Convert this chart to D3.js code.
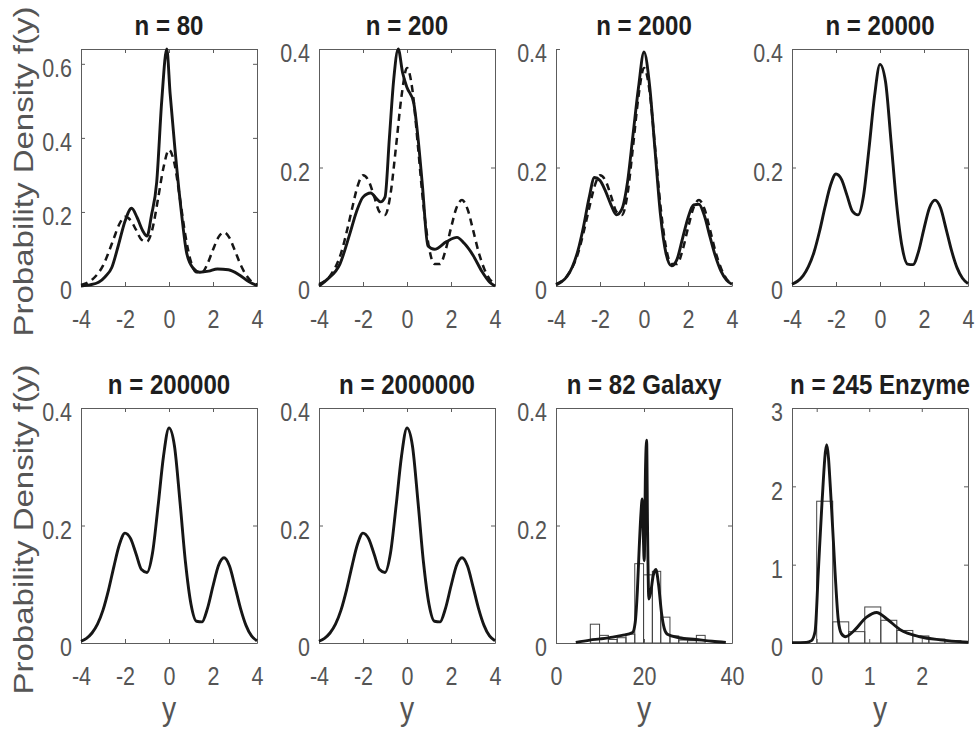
<!DOCTYPE html>
<html>
<head>
<meta charset="utf-8">
<script src="https://cdn.jsdelivr.net/npm/d3@7"></script>
<style>
  body { margin: 0; background: #fff; }
  svg { display: block; }
</style>
</head>
<body>
<svg id="chart" width="976" height="729"></svg>
<script>
// panel titles, left to right, top to bottom
var titles = ["n = 80", "n = 200", "n = 2000", "n = 20000",
  "n = 200000", "n = 2000000", "n = 82 Galaxy", "n = 245 Enzyme"];

var yLabel = "Probability Density f(y)";
var xLabel = "y";

// tick values
var xTicksStd = [-4, -2, 0, 2, 4];
var xTicksGalaxy = [0, 20, 40];
var xTicksEnzyme = [0, 1, 2];
var yTicksN80 = [0, 0.2, 0.4, 0.6];
var yTicksStd = [0, 0.2, 0.4];
var yTicksEnzyme = [0, 1, 2, 3];

// common grid of the smooth curves (-4 .. 4, step 0.25)
var gridX = [-4, -3.75, -3.5, -3.25, -3, -2.75, -2.5, -2.25, -2, -1.75, -1.5, -1.25, -1,
  -0.75, -0.5, -0.25, 0, 0.25, 0.5, 0.75, 1, 1.25, 1.5, 1.75, 2, 2.25, 2.5, 2.75, 3,
  3.25, 3.5, 3.75, 4];

// dashed curve (true density) in the first three panels
var trueDensity = [0.003, 0.008, 0.017, 0.032, 0.055, 0.09, 0.13, 0.168, 0.187, 0.178,
  0.152, 0.125, 0.12, 0.155, 0.235, 0.32, 0.368, 0.33, 0.235, 0.135, 0.065, 0.037, 0.037,
  0.06, 0.098, 0.132, 0.145, 0.13, 0.095, 0.058, 0.03, 0.012, 0.004];

// solid estimates
var est2000 = [0.002, 0.007, 0.016, 0.033, 0.06, 0.1, 0.148, 0.183, 0.178, 0.16, 0.137,
  0.12, 0.13, 0.175, 0.255, 0.335, 0.395, 0.34, 0.23, 0.12, 0.055, 0.034, 0.045, 0.08,
  0.115, 0.137, 0.138, 0.118, 0.083, 0.05, 0.025, 0.01, 0.003];
var est20000 = [0.003, 0.008, 0.017, 0.033, 0.057, 0.092, 0.133, 0.17, 0.189, 0.18,
  0.153, 0.126, 0.12, 0.152, 0.232, 0.32, 0.374, 0.345, 0.245, 0.14, 0.067, 0.037, 0.036,
  0.058, 0.097, 0.132, 0.145, 0.132, 0.097, 0.06, 0.031, 0.013, 0.004];
var est200000 = [0.003, 0.008, 0.017, 0.032, 0.056, 0.09, 0.131, 0.168, 0.187, 0.178,
  0.152, 0.125, 0.12, 0.153, 0.232, 0.318, 0.366, 0.335, 0.24, 0.137, 0.066, 0.037, 0.036,
  0.059, 0.097, 0.132, 0.145, 0.131, 0.096, 0.059, 0.03, 0.012, 0.004];
var est2000000 = [0.003, 0.008, 0.017, 0.032, 0.056, 0.09, 0.131, 0.168, 0.187, 0.178,
  0.152, 0.125, 0.12, 0.153, 0.232, 0.318, 0.366, 0.335, 0.24, 0.137, 0.066, 0.037, 0.036,
  0.059, 0.097, 0.132, 0.145, 0.131, 0.096, 0.059, 0.03, 0.012, 0.004];

// the two small samples have irregular shapes, kept as [y, f(y)] pairs
var est80 = [[-4, 0], [-3.6, 0.003], [-3.2, 0.01], [-2.9, 0.025], [-2.6, 0.05], [-2.3, 0.11],
  [-2.0, 0.175], [-1.7, 0.21], [-1.45, 0.185], [-1.2, 0.15], [-1.0, 0.135], [-0.8, 0.19],
  [-0.56, 0.28], [-0.33, 0.5], [-0.1, 0.64], [0.05, 0.52], [0.27, 0.37], [0.58, 0.19],
  [0.8, 0.09], [1.1, 0.048], [1.4, 0.037], [1.8, 0.04], [2.2, 0.046], [2.7, 0.044],
  [3.2, 0.03], [3.6, 0.013], [4, 0.001]];
var est200 = [[-4, 0], [-3.6, 0.012], [-3.05, 0.037], [-2.6, 0.088], [-2.3, 0.125],
  [-2.0, 0.15], [-1.65, 0.157], [-1.4, 0.148], [-1.2, 0.142], [-1.0, 0.15], [-0.8, 0.25],
  [-0.6, 0.35], [-0.4, 0.4], [-0.2, 0.36], [0.0, 0.335], [0.3, 0.31], [0.5, 0.25],
  [0.7, 0.17], [0.95, 0.068], [1.25, 0.062], [1.8, 0.075], [2.27, 0.082], [2.6, 0.072],
  [3.0, 0.052], [3.4, 0.025], [3.77, 0.006], [4, 0]];

// galaxy data: histogram and fitted density
var galaxyEdges = [7.8, 9.9, 11.9, 13.9, 15.9, 17.9, 19.9, 21.9, 23.8, 25.9, 27.9, 29.9, 31.9, 33.9];
var galaxyHeights = [0.032, 0.013, 0.006, 0.009, 0.015, 0.135, 0.116, 0.122, 0.044, 0.012, 0.005, 0.004, 0.013];
var galaxyCurve = [[4.5, 0.001], [7.7, 0.005], [10, 0.007], [12.9, 0.01], [15, 0.013],
  [17.4, 0.018], [18.0, 0.035], [18.5, 0.09], [18.9, 0.16], [19.3, 0.22], [19.6, 0.245],
  [19.85, 0.18], [20.05, 0.14], [20.35, 0.3], [20.6, 0.345], [20.8, 0.2], [21.1, 0.075],
  [21.5, 0.085], [22.1, 0.115], [22.7, 0.125], [23.3, 0.1], [24, 0.05], [24.6, 0.025],
  [25.3, 0.015], [28, 0.009], [31.8, 0.006], [35.5, 0.003], [38.6, 0.001]];

// enzyme data: histogram and fitted density
var enzymeEdges = [0, 0.305, 0.61, 0.915, 1.22, 1.525, 1.83, 2.135, 2.44, 2.745];
var enzymeHeights = [1.81, 0.27, 0.145, 0.46, 0.29, 0.16, 0.09, 0.05, 0.03];
var enzymeCurve = [[-0.47, 0.005], [-0.2, 0.008], [-0.1, 0.03], [-0.03, 0.15], [0.03, 0.9],
  [0.1, 1.78], [0.19, 2.53], [0.28, 1.76], [0.35, 0.9], [0.41, 0.3], [0.47, 0.12],
  [0.55, 0.08], [0.7, 0.15], [0.95, 0.33], [1.14, 0.39], [1.33, 0.31], [1.59, 0.17],
  [1.97, 0.08], [2.35, 0.04], [2.88, 0.01]];

function zip(xs, ys) {
  return xs.map(function(x, i) { return [x, ys[i]]; });
}

function bins(edges, heights) {
  return heights.map(function(h, i) { return {x0: edges[i], x1: edges[i + 1], h: h}; });
}

var panels = [
  {xd: [-4, 4], yd: [0, 0.64], xt: xTicksStd, yt: yTicksN80, box: true, solid: est80, dashed: zip(gridX, trueDensity)},
  {xd: [-4, 4], yd: [0, 0.4], xt: xTicksStd, yt: yTicksStd, box: true, solid: est200, dashed: zip(gridX, trueDensity)},
  {xd: [-4, 4], yd: [0, 0.4], xt: xTicksStd, yt: yTicksStd, box: false, solid: zip(gridX, est2000), dashed: zip(gridX, trueDensity)},
  {xd: [-4, 4], yd: [0, 0.4], xt: xTicksStd, yt: yTicksStd, box: true, solid: zip(gridX, est20000)},
  {xd: [-4, 4], yd: [0, 0.4], xt: xTicksStd, yt: yTicksStd, box: true, solid: zip(gridX, est200000)},
  {xd: [-4, 4], yd: [0, 0.4], xt: xTicksStd, yt: yTicksStd, box: true, solid: zip(gridX, est2000000)},
  {xd: [0, 40], yd: [0, 0.4], xt: xTicksGalaxy, yt: yTicksStd, box: true, solid: galaxyCurve, bars: bins(galaxyEdges, galaxyHeights)},
  {xd: [-0.47, 2.88], yd: [0, 3], xt: xTicksEnzyme, yt: yTicksEnzyme, box: true, solid: enzymeCurve, bars: bins(enzymeEdges, enzymeHeights)}
];

// layout
var colLeft = [81, 319, 556, 792];
var panelW = 176;
var rowTop = [49, 408];
var rowH = [237, 235];
var squeeze = 0.86;   // the source figure is squeezed sideways, text too
var font = "'Liberation Sans', Arial, Helvetica, sans-serif";
var axisColor = "#5c5c5c";
var textColor = "#555";
var lineColor = "#161616";

var svg = d3.select("#chart");

function fmt(d) { return d === 0 ? "0" : String(d); }

function drawPanel(p, i) {
  var row = Math.floor(i / 4);
  var h = rowH[row];
  var g = svg.append("g")
    .attr("transform", "translate(" + colLeft[i % 4] + "," + rowTop[row] + ")");

  var x = d3.scaleLinear().domain(p.xd).range([0, panelW]);
  var y = d3.scaleLinear().domain(p.yd).range([h, 0]);

  // histogram bars under the curve
  if (p.bars) {
    g.selectAll(".bar").data(p.bars).enter().append("rect")
      .attr("class", "bar")
      .attr("x", function(d) { return x(d.x0); })
      .attr("width", function(d) { return x(d.x1) - x(d.x0); })
      .attr("y", function(d) { return y(d.h); })
      .attr("height", function(d) { return h - y(d.h); })
      .attr("fill", "none")
      .attr("stroke", "#444")
      .attr("stroke-width", 1);
  }

  // axes, ticks pointing inwards like matlab
  var xAxis = g.append("g").attr("transform", "translate(0," + h + ")")
    .call(d3.axisBottom(x).tickValues(p.xt).tickSize(-4).tickSizeOuter(0).tickFormat(fmt));
  xAxis.selectAll("text")
    .attr("y", 42).attr("dy", null)
    .attr("transform", "scale(" + squeeze + ",1)");

  var yAxis = g.append("g")
    .call(d3.axisLeft(y).tickValues(p.yt).tickSize(-4).tickSizeOuter(0).tickFormat(fmt));
  yAxis.selectAll("text")
    .attr("x", -9 / squeeze).attr("y", 4).attr("dy", "0.35em")
    .attr("transform", "scale(" + squeeze + ",1)");

  if (p.box) {
    g.append("g")
      .call(d3.axisTop(x).tickValues(p.xt).tickSize(-4).tickSizeOuter(0).tickFormat(""));
    g.append("g").attr("transform", "translate(" + panelW + ",0)")
      .call(d3.axisRight(y).tickValues(p.yt).tickSize(-4).tickSizeOuter(0).tickFormat(""));
  }

  g.selectAll(".domain, .tick line").attr("stroke", axisColor).attr("stroke-width", 1);
  g.selectAll(".tick text")
    .attr("fill", textColor)
    .style("font-family", font)
    .style("font-size", "25px");

  var line = d3.line()
    .x(function(d) { return x(d[0]); })
    .y(function(d) { return y(d[1]); })
    .curve(d3.curveMonotoneX);

  if (p.dashed) {
    g.append("path")
      .attr("d", line(p.dashed))
      .attr("fill", "none")
      .attr("stroke", lineColor)
      .attr("stroke-width", 2.5)
      .attr("stroke-dasharray", "7,5");
  }

  g.append("path")
    .attr("d", line(p.solid))
    .attr("fill", "none")
    .attr("stroke", lineColor)
    .attr("stroke-width", 2.9)
    .attr("stroke-linejoin", "round");

  // title
  g.append("text")
    .attr("transform", "translate(" + panelW / 2 + ",-14) scale(" + squeeze + ",1)")
    .attr("text-anchor", "middle")
    .style("font-family", font)
    .style("font-size", "28px")
    .style("font-weight", "bold")
    .attr("fill", "#1e1e1e")
    .text(titles[i]);

  // x label only on the bottom row
  if (row == 1) {
    g.append("text")
      .attr("transform", "translate(" + panelW / 2 + "," + (h + 77) + ") scale(" + squeeze + ",1)")
      .attr("text-anchor", "middle")
      .style("font-family", font)
      .style("font-size", "33px")
      .attr("fill", textColor)
      .text(xLabel);
  }
}

panels.forEach(drawPanel);

// y labels, one per row
rowTop.forEach(function(top, r) {
  svg.append("text")
    .attr("transform", "translate(33," + (top + rowH[r] / 2 + 4) + ") scale(" + squeeze + ",1) rotate(-90)")
    .attr("text-anchor", "middle")
    .style("font-family", font)
    .style("font-size", "33px")
    .attr("fill", textColor)
    .text(yLabel);
});
</script>
</body>
</html>
